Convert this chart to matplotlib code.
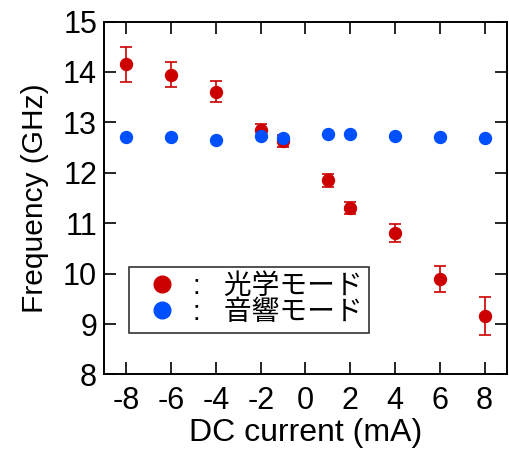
import matplotlib
matplotlib.use('Agg')

import numpy as np
import matplotlib.pyplot as plt
from matplotlib.lines import Line2D

# ── Dados ─────────────────────────────────────────────────────────────────────
corrente = [-8, -6, -4, -2, -1, 1, 2, 4, 6, 8]                 # mA
freq_optica = [14.15, 13.95, 13.61, 12.85, 12.63, 11.85, 11.31, 10.81, 9.90, 9.16]
erro_optica = [0.34, 0.24, 0.21, 0.12, 0.12, 0.13, 0.12, 0.18, 0.26, 0.37]
freq_acustica = [12.72, 12.71, 12.65, 12.73, 12.70, 12.76, 12.77, 12.74, 12.71, 12.70]

rotulo_optica = ":   光学モード"
rotulo_acustica = ":   音響モード"

x_ticks = [-8, -6, -4, -2, 0, 2, 4, 6, 8]
y_ticks = [8, 9, 10, 11, 12, 13, 14, 15]

COR_VERMELHO = "#cc0000"
COR_AZUL = "#0050ff"

plt.rcParams['font.family'] = ['Liberation Sans', 'Noto Sans CJK JP', 'DejaVu Sans']
plt.rcParams['axes.unicode_minus'] = False

fig = plt.figure(figsize=(5.1, 4.5), dpi=100)
ax = fig.add_axes([0.204, 0.168, 0.790, 0.784])

ax.errorbar(corrente, freq_optica, yerr=erro_optica, fmt='o', color=COR_VERMELHO,
            ms=8.6, elinewidth=1.2, capsize=4, capthick=1.2, label=rotulo_optica,
            zorder=2)
ax.plot(corrente, freq_acustica, 'o', color=COR_AZUL, ms=8.6,
        label=rotulo_acustica, zorder=3)

ax.set_xlim(-9, 9)
ax.set_ylim(8, 15)
ax.set_xticks(x_ticks)
ax.set_yticks(y_ticks)
ax.tick_params(direction='in', length=8.5, width=1.2, labelsize=22,
               top=True, right=True)
ax.tick_params(axis='x', pad=8)
ax.tick_params(axis='y', pad=5)
for sp in ax.spines.values():
    sp.set_linewidth(1.4)

ax.set_xlabel("DC current (mA)", fontsize=23, labelpad=2)
ax.set_ylabel("Frequency (GHz)", fontsize=21.5, labelpad=10)

# legenda: só o marcador, sem a barra de erro
h_opt = Line2D([], [], ls='none', marker='o', color=COR_VERMELHO, ms=12)
h_ac = Line2D([], [], ls='none', marker='o', color=COR_AZUL, ms=12)
leg = ax.legend([h_opt, h_ac], [rotulo_optica, rotulo_acustica],
                loc='lower left', bbox_to_anchor=(0.062, 0.117), borderaxespad=0,
                fontsize=20, frameon=True, fancybox=False, edgecolor='black',
                handlelength=1.9, handletextpad=0.15, labelspacing=0.0,
                borderpad=0.25)
leg.get_frame().set_linewidth(1.2)

fig.savefig("out.png", dpi=100)
